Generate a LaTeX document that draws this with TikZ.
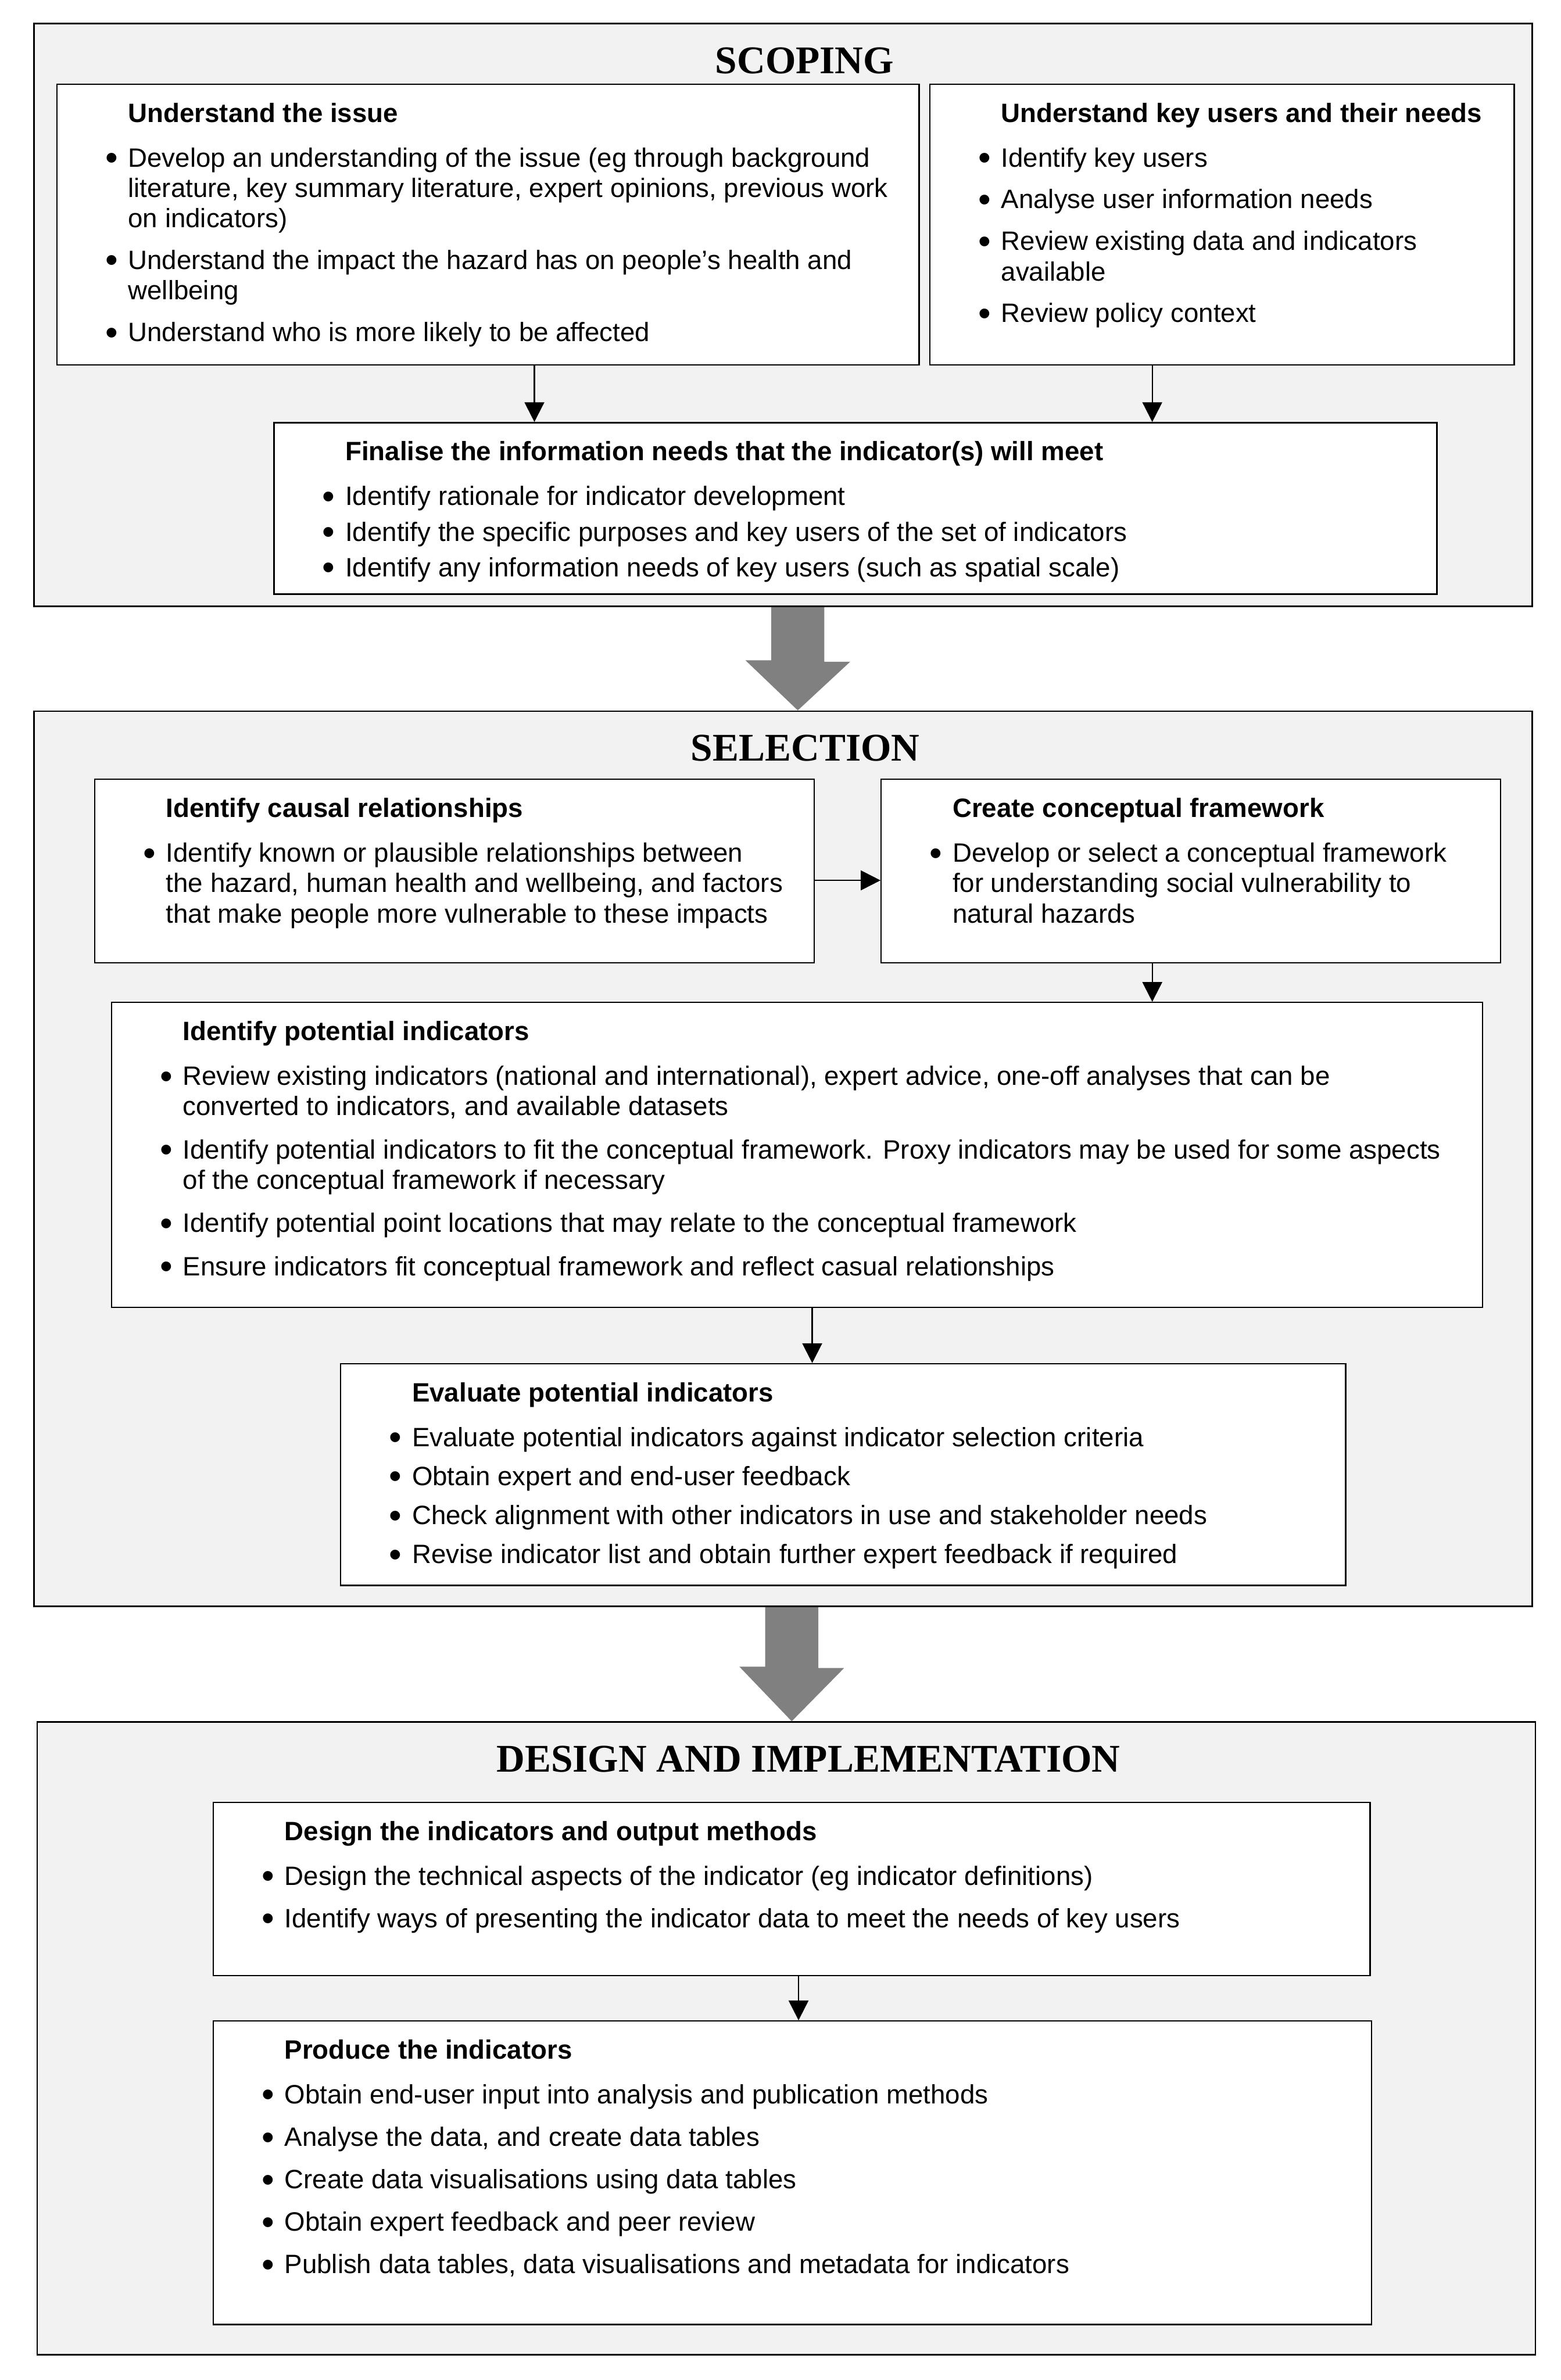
\documentclass[tikz,border=0pt]{standalone}
\usepackage{fontspec}
\setmainfont{Liberation Sans}
\newfontfamily\titlefont{Liberation Serif}
\usetikzlibrary{arrows.meta}
\definecolor{panelgray}{HTML}{F2F2F2}
\definecolor{arrowgray}{HTML}{808080}
\newlength\upx
\setlength\upx{0.02cm}
\newlength\bulgap
% one bullet inside a task box
\newcommand\bul{\par\vspace{\bulgap}\noindent\hangindent=15\upx\hangafter=1%
  \makebox[15\upx][l]{\raisebox{-1.2pt}{\fontsize{13.5pt}{0pt}\selectfont\textbullet}}}
% #1 width, #2 height, #3 extra gap between bullets, #4 heading, #5 bullets
\newcommand\taskbody[5]{%
  \parbox[t][#2\upx][t]{#1\upx}{%
    \setlength\bulgap{#3\upx}%
    \raggedright\leftskip=32\upx
    \noindent\hspace*{15\upx}\rule{0pt}{25\upx}\textbf{#4}\par
    \vspace{\dimexpr 9.5\upx-\bulgap\relax}%
    #5\par}}

\begin{document}
\begin{tikzpicture}[x=0.02cm, y=-0.02cm,
  section/.style={draw, fill=panelgray, line width=0.6pt, inner sep=0pt, anchor=north west},
  sectitle/.style={font=\titlefont\bfseries\fontsize{14.7pt}{17pt}\selectfont, inner sep=0pt},
  taskbox/.style={draw, fill=white, line width=0.5pt, inner sep=0pt, anchor=north west,
    font=\fontsize{9.95pt}{11.38pt}\selectfont},
  flow/.style={draw, line width=0.5pt, -{Triangle[length=0.26cm,width=0.26cm]}},
  bigflow/.style={fill=arrowgray}]
\useasboundingbox (0,0) rectangle (1028,1568);
% Sections
\node[section, minimum width=19.74cm, minimum height=7.68cm] (scoping) at (22,15) {};
\node[section, minimum width=19.74cm, minimum height=11.8cm] (selection) at (22,468) {};
\node[section, minimum width=19.74cm, minimum height=8.34cm] (design) at (24,1134) {};
% Titles
\node[sectitle] (scopingtitle) at (530,40) {SCOPING};
\node[sectitle] (selectiontitle) at (530.5,493) {SELECTION};
\node[sectitle] (designtitle) at (532.5,1159) {DESIGN AND IMPLEMENTATION};
% Scoping boxes
\node[taskbox] (issue) at (37,55) {\taskbody{568}{185}{7.5}{Understand the issue}{%
  \bul Develop an understanding of the issue (eg through background\newline
  literature, key summary literature, expert opinions, previous work\newline
  on indicators)
  \bul Understand the impact the hazard has on people’s health and\newline
  wellbeing
  \bul Understand who is more likely to be affected}};
\node[taskbox] (keyusers) at (612,55) {\taskbody{385}{185}{7.5}{Understand key users and their needs}{%
  \bul Identify key users
  \bul Analyse user information needs
  \bul Review existing data and indicators\newline
  available
  \bul Review policy context}};
\node[taskbox] (finalise) at (180,278) {\taskbody{766}{113}{3.5}{Finalise the information needs that the indicator(s) will meet}{%
  \bul Identify rationale for indicator development
  \bul Identify the specific purposes and key users of the set of indicators
  \bul Identify any information needs of key users (such as spatial scale)}};
% Selection boxes
\node[taskbox] (causal) at (62,513) {\taskbody{474}{121}{8}{Identify causal relationships}{%
  \bul Identify known or plausible relationships between\newline
  the hazard, human health and wellbeing, and factors\newline
  that make people more vulnerable to these impacts}};
\node[taskbox] (concept) at (580,513) {\taskbody{408}{121}{8}{Create conceptual framework}{%
  \bul Develop or select a conceptual framework\newline
  for understanding social vulnerability to\newline
  natural hazards}};
\node[taskbox] (potential) at (73,660) {\taskbody{903}{201}{8.5}{Identify potential indicators}{%
  \bul Review existing indicators (national and international), expert advice, one-off analyses that can be\newline
  converted to indicators, and available datasets
  \bul Identify potential indicators to fit the conceptual framework. Proxy indicators may be used for some aspects\newline
  of the conceptual framework if necessary
  \bul Identify potential point locations that may relate to the conceptual framework
  \bul Ensure indicators fit conceptual framework and reflect casual relationships}};
\node[taskbox] (evaluate) at (224,898) {\taskbody{662}{146}{5.7}{Evaluate potential indicators}{%
  \bul Evaluate potential indicators against indicator selection criteria
  \bul Obtain expert and end-user feedback
  \bul Check alignment with other indicators in use and stakeholder needs
  \bul Revise indicator list and obtain further expert feedback if required}};
% Design boxes
\node[taskbox] (outputs) at (140,1187) {\taskbody{762}{114}{8}{Design the indicators and output methods}{%
  \bul Design the technical aspects of the indicator (eg indicator definitions)
  \bul Identify ways of presenting the indicator data to meet the needs of key users}};
\node[taskbox] (produce) at (140,1331) {\taskbody{763}{200}{8}{Produce the indicators}{%
  \bul Obtain end-user input into analysis and publication methods
  \bul Analyse the data, and create data tables
  \bul Create data visualisations using data tables
  \bul Obtain expert feedback and peer review
  \bul Publish data tables, data visualisations and metadata for indicators}};
% Arrow positions
\coordinate (c1) at (352,0);
\coordinate (c2) at (759,0);
\coordinate (c3) at (0,580);
\coordinate (c4) at (535,0);
\coordinate (c5) at (526,0);
\coordinate (b1) at (525.5,0);
\coordinate (b2) at (521.5,0);
% Small arrows
\draw[flow] (issue.south -| c1) -- (finalise.north -| c1);
\draw[flow] (keyusers.south -| c2) -- (finalise.north -| c2);
\draw[flow] (causal.east |- c3) -- (concept.west |- c3);
\draw[flow] (concept.south -| c2) -- (potential.north -| c2);
\draw[flow] (potential.south -| c4) -- (evaluate.north -| c4);
\draw[flow] (outputs.south -| c5) -- (produce.north -| c5);
% Big arrows between sections
\fill[bigflow] (scoping.south -| b1) ++(-17.5,0) -- ++(35,0) -- ++(0,36) -- ++(17,0)
  -- (selection.north -| b1) -- ++(-34.5,-33) -- ++(17,0) -- cycle;
\fill[bigflow] (selection.south -| b2) ++(-17.5,0) -- ++(35,0) -- ++(0,40) -- ++(17,0)
  -- (design.north -| b2) -- ++(-34.5,-36) -- ++(17,0) -- cycle;
\end{tikzpicture}
\end{document}
